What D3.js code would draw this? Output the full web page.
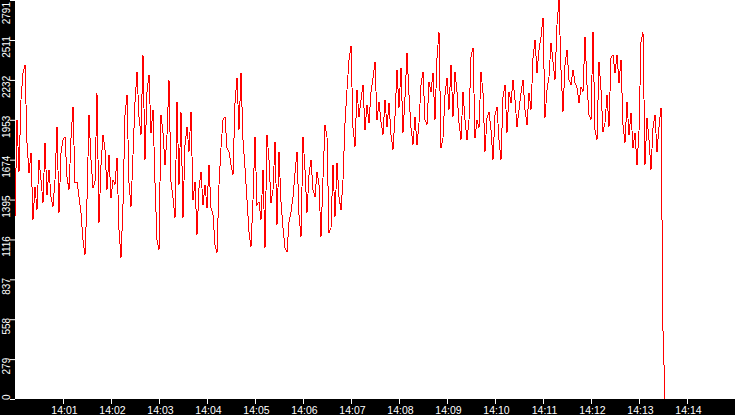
<!DOCTYPE html>
<html>
<head>
<meta charset="utf-8">
<script src="https://cdn.jsdelivr.net/npm/d3@7"></script>
<style>
body { margin: 0; background: #000; }
</style>
</head>
<body>
<div id="chart"></div>
<script>
// Load over time, one sample every 2.5 s

var WIDTH = 735;
var HEIGHT = 415;
var LEFT = 15;
var BOTTOM = 399;

var startTime = "14:00:00";
var endTime = "14:15:00";
var stepSeconds = 2.5;

var xTickLabels = [ "14:01", "14:02", "14:03", "14:04", "14:05", "14:06", "14:07",
                    "14:08", "14:09", "14:10", "14:11", "14:12", "14:13", "14:14" ];
var yTickLabels = [ 0, 279, 558, 837, 1116, 1395, 1674, 1953, 2232, 2511, 2791 ];

var load = [
    1274,1953,1589,2093,2282,2338,1792,1582,1722,1253,1484,1323,1673,1533,1372,1792,1428,1603,1414,1344,
    1533,1904,1302,1722,1813,1834,1554,1463,1827,2044,1512,1519,1414,1302,1113,1008,1393,
    1988,1673,1477,1519,2142,1232,1638,1848,1743,1463,1708,1407,1533,1498,1687,1183,987,1358,1988,2128,
    1512,1344,1708,2079,2289,1974,1848,2408,1673,2149,2268,1862,2023,1512,1113,1043,1988,1862,1638,1848,
    2233,1519,1407,1267,2079,1498,2009,1267,1778,1904,1729,2009,1393,1519,1148,1477,1589,1358,1498,1337,
    1638,1337,1288,1078,1022,1498,1757,1953,1974,1757,1729,1638,1568,2072,2247,1883,2282,1813,1617,1393,
    1169,1064,1393,1834,1358,1379,1253,1603,1057,1848,1673,1372,1463,1799,1218,1729,1379,1197,1057,1029,
    1239,1309,1414,1582,1729,1288,1134,1834,1603,1302,1568,1673,1463,1414,1589,1498,1134,1547,1918,1834,
    1162,1197,1638,1274,1652,1414,1323,1533,1932,2163,2373,2471,1897,1764,2163,1974,2093,2198,1883,2058,
    1932,2149,2247,2359,1953,2079,1939,1848,2093,1904,2072,1848,1743,1974,2303,2037,2317,1862,2107,2422,
    2128,1897,1778,1974,1778,1932,2198,2289,1953,1918,2219,2149,2282,1953,2387,2569,1757,1827,2128,2247,
    2023,2338,1974,2289,2149,1932,1813,2149,1953,1813,1953,2394,2457,1827,1953,1897,2289,2142,1729,1967,
    2009,1883,1673,1988,2044,1813,1673,2114,2198,1862,2149,2072,2233,2093,1904,2023,2142,2233,2023,1918,
    2142,2023,2387,2513,2282,2443,2534,2667,1967,2163,2254,2492,2359,2233,2618,2791,2303,2009,2338,2443,
    2233,2198,2303,2212,2177,2072,2184,2149,2534,2198,1988,1953,2569,1883,1813,2359,2163,1869,1932,2128,
    1904,2387,2408,2282,2408,2212,2373,1918,1792,2079,1848,2002,1757,1862,1638,1869,2499,2569,1638,1967,
    1813,1603,1897,1988,1729,1904,2037,476,0
];

var parseTime = d3.timeParse("%H:%M:%S");
var parseMinute = d3.timeParse("%H:%M");
var t0 = parseTime(startTime);

var points = load.map(function(v, i) {
    return { t: new Date(t0.getTime() + i * stepSeconds * 1000), v: v };
});

var x = d3.scaleTime()
    .domain([ t0, parseTime(endTime) ])
    .range([ LEFT, WIDTH ]);

var y = d3.scaleLinear()
    .domain([ 0, d3.max(yTickLabels) ])
    .range([ BOTTOM, 0 ]);

var svg = d3.select("#chart").append("svg")
    .attr("width", WIDTH)
    .attr("height", HEIGHT)
    .style("display", "block")
    .style("font-family", "'Liberation Sans', Arial, sans-serif");

svg.append("rect")
    .attr("width", WIDTH)
    .attr("height", HEIGHT)
    .attr("fill", "#000");

svg.append("rect")
    .attr("x", LEFT)
    .attr("y", 0)
    .attr("width", WIDTH - LEFT)
    .attr("height", BOTTOM)
    .attr("fill", "#fff");

var line = d3.line()
    .x(function(d) { return x(d.t); })
    .y(function(d) { return y(d.v); });

svg.append("path")
    .datum(points)
    .attr("d", line)
    .attr("fill", "none")
    .attr("stroke", "#ff0000")
    .attr("stroke-width", 1)
    .attr("shape-rendering", "crispEdges");

// x axis in the black strip at the bottom
var xAxis = svg.append("g")
    .attr("transform", "translate(0," + BOTTOM + ")")
    .attr("color", "#fff")
    .style("font-size", "10.5px")
    .call(d3.axisBottom(x)
        .tickValues(xTickLabels.map(parseMinute))
        .tickSize(5)
        .tickFormat(d3.timeFormat("%H:%M")));

xAxis.select(".domain").remove();
xAxis.selectAll("text")
    .attr("font-family", null)
    .attr("dx", 1);

// y axis, labels turned on their side inside the left strip
var yAxis = svg.append("g")
    .attr("transform", "translate(" + LEFT + ",0)")
    .attr("color", "#fff")
    .style("font-size", "10px")
    .call(d3.axisLeft(y)
        .tickValues(yTickLabels)
        .tickSize(5)
        .tickFormat(d3.format("d")));

yAxis.select(".domain").remove();
yAxis.selectAll("text")
    .attr("font-family", null)
    .each(function(d) {
        var len = this.getComputedTextLength();
        var ty = y(d) + 0.5;
        var c = Math.max(len / 2 + 2, Math.min(ty + 6.5, BOTTOM + 1 - len / 2));
        d3.select(this)
            .attr("x", null)
            .attr("dy", null)
            .attr("text-anchor", "middle")
            .attr("transform", "translate(-5," + (c - ty) + ") rotate(-90)");
    });
</script>
</body>
</html>
